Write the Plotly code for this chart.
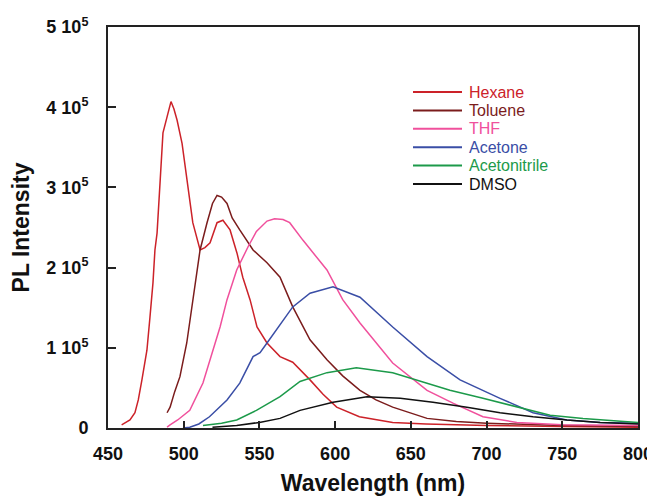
import plotly.graph_objects as go

# Wavelength (nm) and PL intensity
hexane_x = [459, 464.5, 467.8, 470, 472.4, 475.7, 477.7, 479.7, 481, 482.4, 484.5, 486.3, 489, 491.6,
            493.5, 495.6, 498.9, 502, 506, 510.8, 514, 517.4, 522, 525.9, 530.6, 535.2, 539,
            543.8, 548.4, 555, 563.6, 572, 583.4, 592, 601, 616, 638, 660, 700, 750, 800]
hexane_y = [4000, 10000, 19000, 35000, 60000, 97000, 138000, 181000, 222000, 243000, 310000, 368000,
            388000, 407000, 398000, 384000, 355000, 309000, 256000, 222000, 225000, 231000, 256000,
            259000, 247000, 218000, 188000, 160000, 126000, 106000, 89000, 82000, 60000, 42000,
            26000, 14000, 7000, 5000, 3000, 2000, 1000]

toluene_x = [489, 491, 494, 497.5, 502, 506, 510.8, 515.4, 519, 522, 525, 528.6, 532, 537, 545.8,
             555, 563.6, 572, 583.4, 594.6, 605, 616.4, 627, 638, 660.7, 680, 700, 750, 800]
toluene_y = [19000, 26000, 45000, 64000, 106000, 160000, 222000, 256000, 280000, 290000, 288000,
             280000, 262000, 247000, 222000, 206000, 188000, 151000, 110000, 85000, 65000, 47000,
             35000, 26000, 12000, 8000, 6000, 3000, 2000]

thf_x = [489, 491, 496, 504, 512.7, 519.4, 524, 528.6, 535, 542.5, 548, 555, 560, 565.6, 570,
         578.8, 594.6, 605, 616.4, 638, 660.7, 677.8, 697.6, 720, 750, 800]
thf_y = [1000, 4000, 10000, 22000, 56000, 97000, 126000, 160000, 197000, 226000, 245000, 258000,
         261000, 260000, 256000, 234000, 197000, 160000, 131000, 81000, 47000, 31000, 14000, 7000,
         4000, 3000]

acetone_x = [499.5, 504, 510, 517, 528.6, 537, 545.8, 550.4, 555, 563.6, 572, 583.4, 598.6, 616.4,
             638, 660.7, 682.5, 708.9, 730.7, 753, 775, 800]
acetone_y = [0, 1000, 5000, 14000, 35000, 56000, 89000, 94000, 106000, 128000, 151000, 168000,
             176000, 163000, 126000, 89000, 60000, 37000, 19000, 10000, 7000, 6000]

acetonitrile_x = [512.7, 525, 535, 548, 563.6, 576.8, 594.6, 614, 638, 660.7, 675.8, 697.6, 720,
                  742, 763.7, 800]
acetonitrile_y = [3000, 6000, 10000, 22000, 39000, 58000, 69000, 75000, 69000, 56000, 47000, 37000,
                  26000, 16000, 12000, 7000]

dmso_x = [519, 535, 550, 563.6, 576.8, 598.6, 621, 643, 664.6, 687, 708.9, 730.7, 753, 775, 800]
dmso_y = [1000, 3000, 7000, 12000, 22000, 32000, 39000, 37000, 32000, 26000, 19000, 14000, 10000,
          7000, 5000]

series_names = ["Hexane", "Toluene", "THF", "Acetone", "Acetonitrile", "DMSO"]
series_x = [hexane_x, toluene_x, thf_x, acetone_x, acetonitrile_x, dmso_x]
series_y = [hexane_y, toluene_y, thf_y, acetone_y, acetonitrile_y, dmso_y]
series_colors = ["#cc2229", "#7b1c1c", "#f0509c", "#3a4ea6", "#1c9a4a", "#111111"]

y_tickvals = [0, 100000, 200000, 300000, 400000, 500000]
y_ticktext = ["0", "1 10<sup>5</sup>", "2 10<sup>5</sup>", "3 10<sup>5</sup>",
              "4 10<sup>5</sup>", "5 10<sup>5</sup>"]
x_tickvals = [450, 500, 550, 600, 650, 700, 750, 800]

FONT = "Arial, 'Liberation Sans', sans-serif"

# The page body adds an 8px offset; sized so the plot box sits at x 108-638, y 27-428
OFF = 8
W, H = 647, 489
L, R, T, B = 100, 17, 19, 69
PW, PH = W - L - R, H - T - B


def px_to_paper_x(px):
    return (px - OFF - L) / PW


def px_to_paper_y(py):
    return (H - B - (py - OFF)) / PH


fig = go.Figure()
for name, xs, ys, col in zip(series_names, series_x, series_y, series_colors):
    fig.add_trace(go.Scatter(x=xs, y=ys, mode="lines", name=name, showlegend=False,
                             line=dict(color=col, width=1.5)))

# Manual legend (coloured text, long line samples, tight rows)
shapes, annotations = [], []
for i, (name, col) in enumerate(zip(series_names, series_colors)):
    yc = px_to_paper_y(92 + 18.4 * i)
    shapes.append(dict(type="line", xref="paper", yref="paper",
                       x0=px_to_paper_x(413), x1=px_to_paper_x(462), y0=yc, y1=yc,
                       line=dict(color=col, width=2)))
    annotations.append(dict(xref="paper", yref="paper", x=px_to_paper_x(467), y=yc,
                            xanchor="left", yanchor="middle", showarrow=False, text=name,
                            font=dict(size=16, family=FONT, color=col)))

fig.update_layout(
    width=W, height=H,
    margin=dict(l=L, r=R, t=T, b=B, autoexpand=False),
    paper_bgcolor="white", plot_bgcolor="white",
    font=dict(family=FONT, color="#111"),
    showlegend=False,
    shapes=shapes, annotations=annotations,
    xaxis=dict(range=[450, 800], tickvals=x_tickvals, ticks="inside", ticklen=7,
               tickwidth=1.5, tickcolor="#222", showline=True, linecolor="#222",
               linewidth=2, mirror=True, showgrid=False, zeroline=False,
               automargin=False, ticklabelstandoff=8,
               tickfont=dict(size=18, family=FONT, weight="bold"),
               title=dict(text="<b>Wavelength (nm)</b>", font=dict(size=23, family=FONT),
                          standoff=12)),
    yaxis=dict(range=[0, 500000], tickvals=y_tickvals, ticktext=y_ticktext, ticks="inside",
               ticklen=8, tickwidth=1.5, tickcolor="#222", showline=True, linecolor="#222",
               linewidth=2, mirror=True, showgrid=False, zeroline=False,
               automargin=False, ticklabelstandoff=14,
               tickfont=dict(size=18, family=FONT, weight="bold"),
               title=dict(text="<b>PL Intensity</b>", font=dict(size=23, family=FONT),
                          standoff=10)),
)

fig.write_html("out.html")
